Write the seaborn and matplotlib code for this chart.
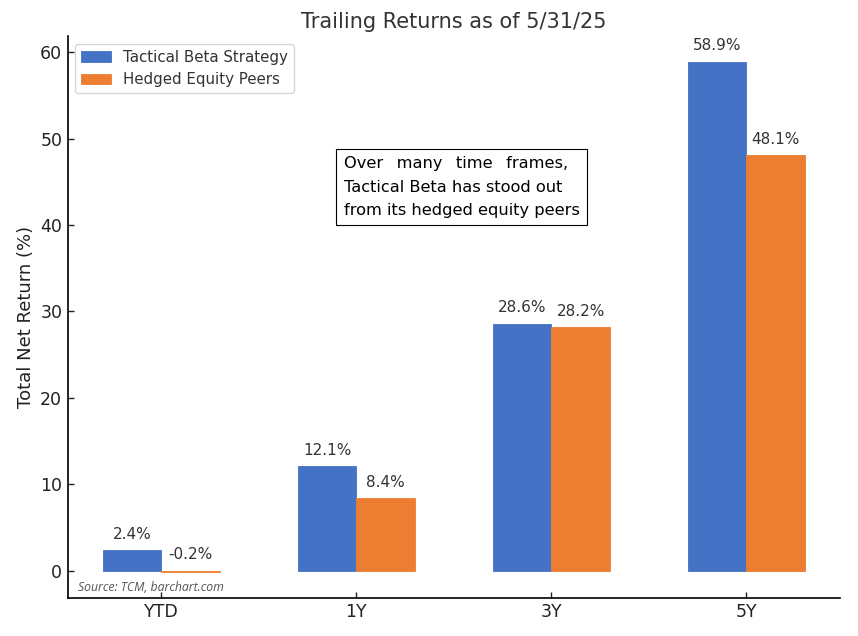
import pandas as pd
import numpy as np
import matplotlib.pyplot as plt
import seaborn as sns

periods = ["YTD", "1Y", "3Y", "5Y"]
strategy = [2.4, 12.1, 28.6, 58.9]
peers = [-0.2, 8.4, 28.2, 48.1]
series_names = ["Tactical Beta Strategy", "Hedged Equity Peers"]
colors = ["#4472C4", "#ED7D31"]

sns.set_theme(style='ticks')
plt.rcParams['font.family'] = ['DejaVu Sans']

df = pd.DataFrame({
    'period': periods * 2,
    'value': strategy + peers,
    'series': [series_names[0]] * 4 + [series_names[1]] * 4,
})

fig, ax = plt.subplots(figsize=(8.58, 6.36), dpi=100)
sns.barplot(data=df, x='period', y='value', hue='series', palette=colors,
            width=0.6, saturation=1, ax=ax, errorbar=None)
for p in ax.patches:
    p.set_edgecolor(p.get_facecolor())
    p.set_linewidth(0.6)
ax.set_xlim(-0.48, 3.48)
ax.set_ylim(-3.155, 61.855)

# value labels above each bar (negative ones too)
for i, (s, p) in enumerate(zip(strategy, peers)):
    for dx, v in ((-0.15, s), (0.15, p)):
        ax.annotate(f"{v:.1f}%", (i + dx, max(v, 0)), xytext=(0, 6),
                    textcoords='offset points', ha='center', va='bottom',
                    fontsize=11, color='#333333')

ax.set_title('Trailing Returns as of 5/31/25', fontsize=15, color='#333333')
ax.set_xlabel('')
ax.set_ylabel('Total Net Return (%)', fontsize=13, color='#222222')
ax.tick_params(axis='both', labelsize=12.5, colors='#222222', length=4,
               width=1, direction='in', pad=4)
for sp in ('left', 'bottom'):
    ax.spines[sp].set_color('black')
    ax.spines[sp].set_linewidth(1.2)
sns.despine(ax=ax)

leg = ax.legend(loc='upper left', fontsize=10.8, frameon=True)
leg.get_frame().set_edgecolor('#cccccc')
for t in leg.get_texts():
    t.set_color('#333333')

ax.text(1.54, 44.4,
        "Over  \u2009many  \u2009time  \u2009frames,\nTactical Beta has stood out\nfrom its hedged equity peers",
        ha='center', va='center', multialignment='left', fontsize=11.7,
        color='black', linespacing=1.68,
        bbox=dict(boxstyle='square,pad=0.45', facecolor='white', edgecolor='black', linewidth=0.8))

ax.text(0.013, 0.007, 'Source: TCM, barchart.com', transform=ax.transAxes,
        fontsize=8.8, style='italic', color='#555555', ha='left', va='bottom',
        family=['Open Sans', 'DejaVu Sans'])

fig.subplots_adjust(left=0.079, right=0.979, top=0.943, bottom=0.06)
fig.savefig('out.png', dpi=100)
